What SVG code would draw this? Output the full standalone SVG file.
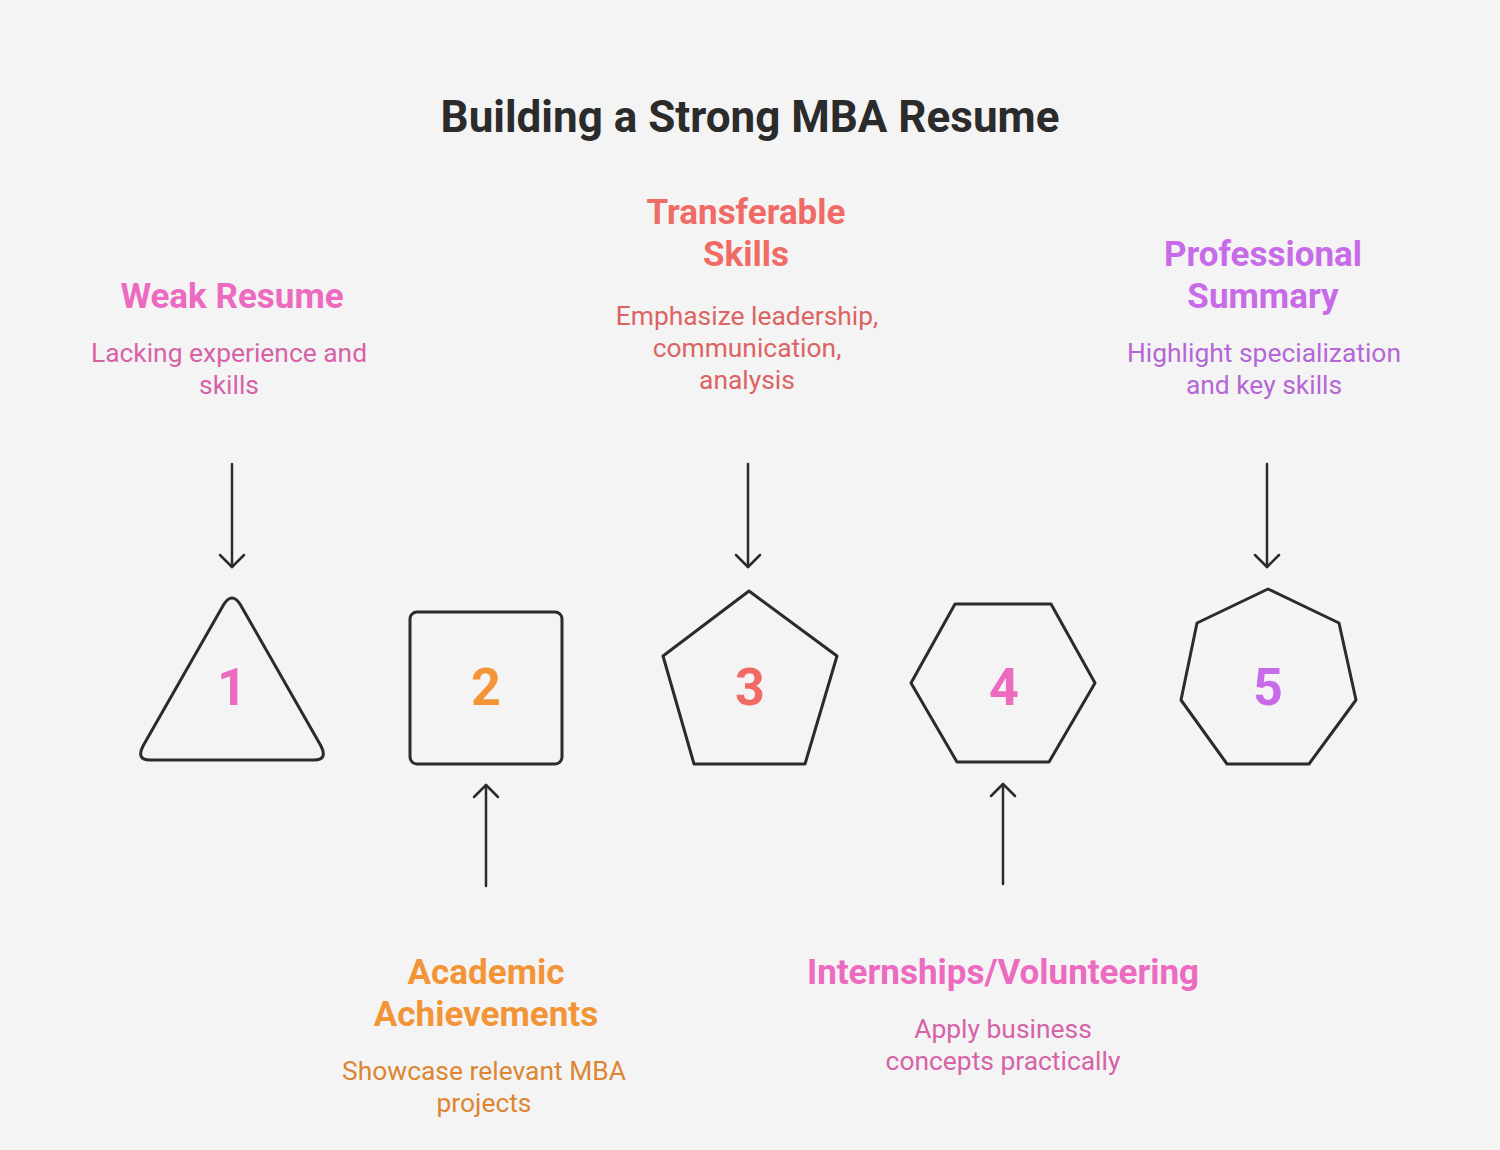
<svg xmlns="http://www.w3.org/2000/svg" width="1500" height="1150" viewBox="0 0 1500 1150">
<style>
.title{font-family:Roboto,"Liberation Sans",sans-serif;font-weight:700;font-size:44px;fill:#2b2b2b;text-anchor:middle}
.head{font-family:Roboto,"Liberation Sans",sans-serif;font-weight:700;font-size:35px;text-anchor:middle}
.desc{font-family:Roboto,"Liberation Sans",sans-serif;font-size:26.4px;text-anchor:middle}
.num{font-family:Roboto,"Liberation Sans",sans-serif;font-weight:700;font-size:52px;text-anchor:middle}
.shape{fill:none;stroke:#2b2b2b;stroke-width:3;stroke-linejoin:round}
.conn{fill:none;stroke:#2b2b2b;stroke-width:2.5;stroke-linecap:round}
</style>
<defs>
<marker id="ah2" viewBox="0 0 30 30" refX="15" refY="15" markerWidth="30" markerHeight="30" markerUnits="userSpaceOnUse" orient="auto">
<path d="M3,3 L15,15 L3,27" fill="none" stroke="#2b2b2b" stroke-width="2.5" stroke-linecap="round" stroke-linejoin="round"/>
</marker>
</defs>
<rect width="1500" height="1150" fill="#f4f4f4"/>
<text class="title" x="750" y="132">Building a Strong MBA Resume</text>

<g id="connectors">
<line class="conn" x1="232" y1="464" x2="232" y2="567" marker-end="url(#ah2)"/>
<line class="conn" x1="748" y1="464" x2="748" y2="567" marker-end="url(#ah2)"/>
<line class="conn" x1="1267" y1="464" x2="1267" y2="567" marker-end="url(#ah2)"/>
<line class="conn" x1="486" y1="886" x2="486" y2="785" marker-end="url(#ah2)"/>
<line class="conn" x1="1003" y1="884" x2="1003" y2="784" marker-end="url(#ah2)"/>
</g>

<g id="node1">
<path class="shape" d="M224,604 Q232,592 240,604 L321,746 Q328,760 314,760 L150,760 Q136,760 143,746 Z"/>
<text class="num" x="232" y="705" fill="#ec6ac0">1</text>
</g>
<g id="node2">
<rect class="shape" x="410" y="612" width="152" height="152" rx="7"/>
<text class="num" x="486" y="705" fill="#f39437">2</text>
</g>
<g id="node3">
<path class="shape" d="M749,591 L837,656 L805,764 L694,764 L663,656 Z"/>
<text class="num" x="750" y="705" fill="#f06b65">3</text>
</g>
<g id="node4">
<path class="shape" d="M955,604 L1051,604 L1095,683 L1049,762 L957,762 L911,683 Z"/>
<text class="num" x="1004" y="705" fill="#ec6ac0">4</text>
</g>
<g id="node5">
<path class="shape" d="M1268,589 L1339,623 L1356,700 L1309,764 L1227,764 L1181,700 L1197,623 Z"/>
<text class="num" x="1268" y="705" fill="#c86be8">5</text>
</g>

<g id="label1">
<text class="head" x="232" y="308" fill="#ec6ac0">Weak Resume</text>
<text class="desc" fill="#d762a8"><tspan x="229" y="362">Lacking experience and</tspan><tspan x="229" y="394">skills</tspan></text>
</g>
<g id="label3">
<text class="head" fill="#f06b65"><tspan x="746" y="224">Transferable</tspan><tspan x="746" y="266">Skills</tspan></text>
<text class="desc" fill="#dc6462"><tspan x="747" y="325">Emphasize leadership,</tspan><tspan x="747" y="357">communication,</tspan><tspan x="747" y="389">analysis</tspan></text>
</g>
<g id="label5">
<text class="head" fill="#c86be8"><tspan x="1263" y="266">Professional</tspan><tspan x="1263" y="308">Summary</tspan></text>
<text class="desc" fill="#b567d6"><tspan x="1264" y="362">Highlight specialization</tspan><tspan x="1264" y="394">and key skills</tspan></text>
</g>
<g id="label2">
<text class="head" fill="#f39437"><tspan x="486" y="984">Academic</tspan><tspan x="486" y="1026">Achievements</tspan></text>
<text class="desc" fill="#dd8530"><tspan x="484" y="1080">Showcase relevant MBA</tspan><tspan x="484" y="1112">projects</tspan></text>
</g>
<g id="label4">
<text class="head" x="1003" y="984" fill="#ec6ac0">Internships/Volunteering</text>
<text class="desc" fill="#d762a8"><tspan x="1003" y="1038">Apply business</tspan><tspan x="1003" y="1070">concepts practically</tspan></text>
</g>
</svg>
